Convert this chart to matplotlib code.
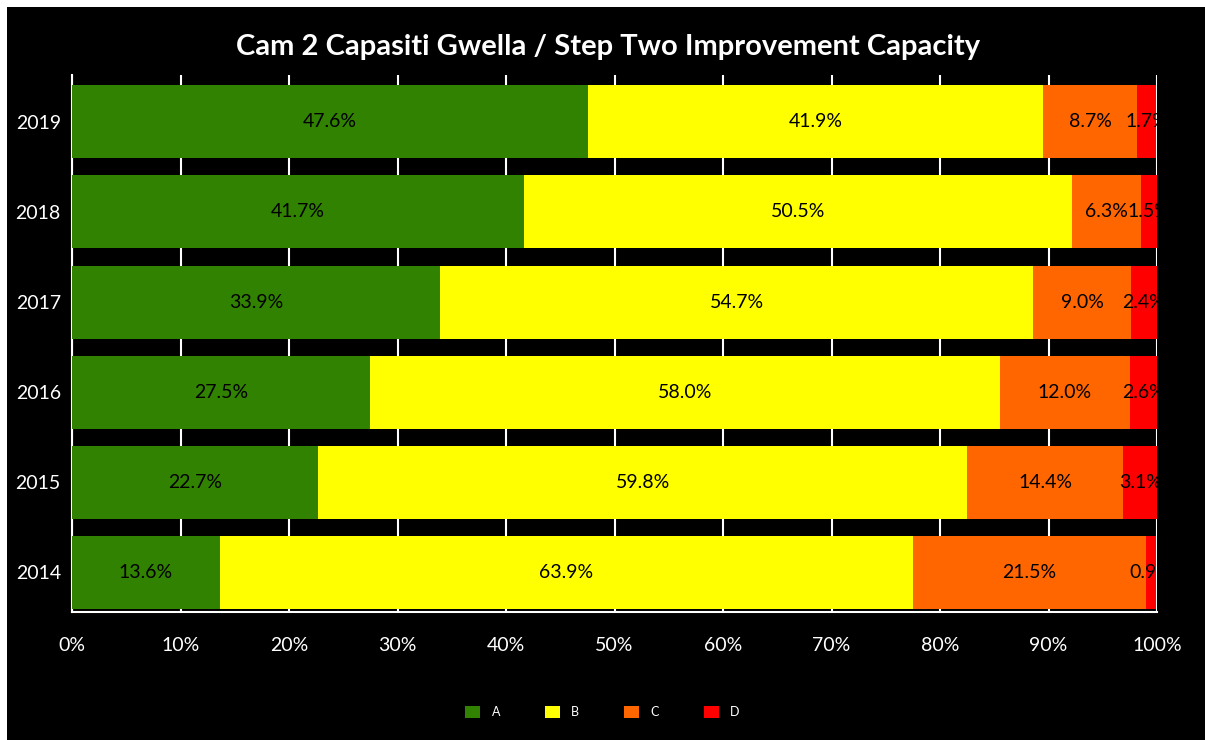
import matplotlib.pyplot as plt
from matplotlib.patches import Rectangle
import numpy as np

years = ["2014", "2015", "2016", "2017", "2018", "2019"]
grades = ["A", "B", "C", "D"]
grade_a = [13.6, 22.7, 27.5, 33.9, 41.7, 47.6]
grade_b = [63.9, 59.8, 58.0, 54.7, 50.5, 41.9]
grade_c = [21.5, 14.4, 12.0, 9.0, 6.3, 8.7]
grade_d = [0.9, 3.1, 2.6, 2.4, 1.5, 1.7]
colors = ["#318200", "#FFFF00", "#FF6600", "#FF0000"]

plt.rcParams["font.family"] = ["Lato", "DejaVu Sans"]

fig = plt.figure(figsize=(12.05, 7.4), dpi=100, facecolor="white")
# black chart area with a thin white margin on the left and top
fig.patches.append(Rectangle((7 / 1205, 0), 1, 1 - 7 / 740, transform=fig.transFigure,
                             facecolor="black", edgecolor="none", zorder=-10))
ax = fig.add_axes([72 / 1205, 1 - 612 / 740, (1157 - 72) / 1205, (612 - 75) / 740])
ax.set_facecolor("black")

y = np.arange(len(years))
left = np.zeros(len(years))
for name, vals, col in zip(grades, [grade_a, grade_b, grade_c, grade_d], colors):
    vals = np.array(vals)
    ax.barh(y, vals, left=left, height=0.81, color=col, label=name, zorder=3)
    for yi, l, v in zip(y, left, vals):
        ax.text(l + v / 2, yi, f"{v:.1f}%", ha="center", va="center",
                fontsize=14, color="black", zorder=4, clip_on=True)
    left += vals

ax.set_xlim(0, 100)
ax.set_ylim(-0.44, 5.52)
ax.set_xticks(np.arange(0, 101, 10))
ax.set_xticklabels([f"{t}%" for t in range(0, 101, 10)])
ax.set_yticks(y)
ax.set_yticklabels(years)
ax.tick_params(axis="both", colors="white", labelsize=14, length=0)
ax.tick_params(axis="x", pad=18)
ax.tick_params(axis="y", pad=8)
ax.grid(axis="x", color="white", linewidth=1.5, zorder=0)
for side in ["top", "right"]:
    ax.spines[side].set_visible(False)
ax.spines["left"].set_color("white")
ax.spines["bottom"].set_color("white")
ax.spines["left"].set_linewidth(1.5)
ax.spines["bottom"].set_linewidth(1.5)

fig.text(0.505, 1 - 47 / 740, "Cam 2 Capasiti Gwella / Step Two Improvement Capacity",
         ha="center", va="center", fontsize=21, fontweight="bold", color="white")

leg = fig.legend(loc="center", bbox_to_anchor=(0.5, 1 - 712 / 740), ncol=4,
                 frameon=False, fontsize=9, labelcolor="white",
                 handlelength=1.2, handleheight=1.2, columnspacing=3.6, handletextpad=0.9)

fig.savefig("out.png", dpi=100, facecolor=fig.get_facecolor())
